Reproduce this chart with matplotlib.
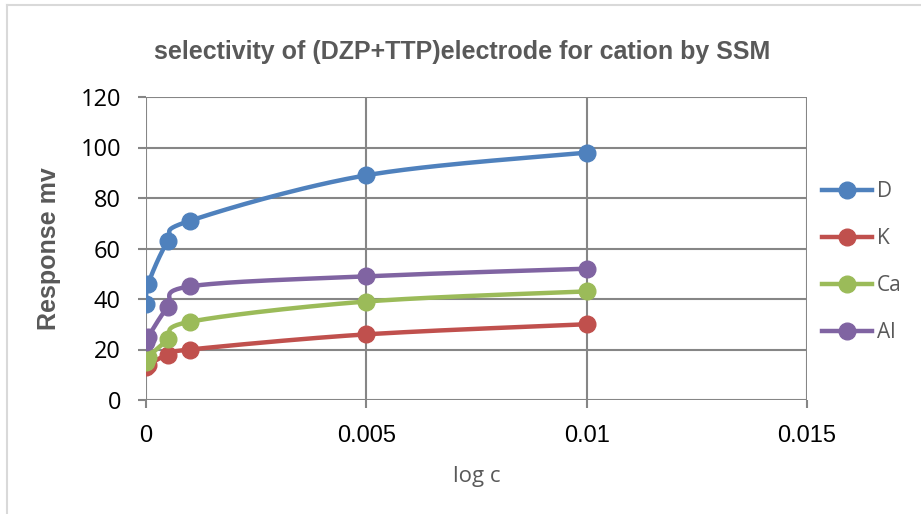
import numpy as np
import matplotlib.pyplot as plt
from matplotlib.lines import Line2D

# données
conc = [0.00001, 0.00005, 0.0005, 0.001, 0.005, 0.01]
series_names = ['D', 'K', 'Ca', 'Al']
resp_D = [38, 46, 63, 71, 89, 98]
resp_K = [13, 14, 18, 20, 26, 30]
resp_Ca = [15, 17, 24, 31, 39, 43]
resp_Al = [23, 25, 37, 45, 49, 52]
colors = ['#4F81BD', '#C0504D', '#9BBB59', '#8064A2']

x_ticks = [0, 0.005, 0.01, 0.015]
x_tick_labels = ['0', '0.005', '0.01', '0.015']
y_ticks = [0, 20, 40, 60, 80, 100, 120]


def smooth(x, y, n=30):
    # courbe lissée façon Excel (Bézier, tension 1/6)
    x = np.asarray(x, float)
    y = np.asarray(y, float)
    px = np.concatenate([[x[0]], x, [x[-1]]])
    py = np.concatenate([[y[0]], y, [y[-1]]])
    xs, ys = [], []
    t = np.linspace(0, 1, n)
    for i in range(1, len(px) - 2):
        p0, p1, p2, p3 = (np.array([px[j], py[j]]) for j in (i - 1, i, i + 1, i + 2))
        c1 = p1 + (p2 - p0) / 6
        c2 = p2 - (p3 - p1) / 6
        b = ((1 - t) ** 3)[:, None] * p1 + (3 * (1 - t) ** 2 * t)[:, None] * c1 \
            + (3 * (1 - t) * t ** 2)[:, None] * c2 + (t ** 3)[:, None] * p2
        xs.extend(b[:, 0])
        ys.extend(b[:, 1])
    return xs, ys


fig = plt.figure(figsize=(9.21, 5.14), dpi=100)
ax = fig.add_axes([146 / 921, 114 / 514, 661 / 921, 303 / 514])

# cadre extérieur (gauche et haut seulement visibles)
fig.add_artist(Line2D([7 / 921, 7 / 921], [0, 1 - 5 / 514], color='#d9d9d9', lw=1.5))
fig.add_artist(Line2D([7 / 921, 1], [1 - 5 / 514, 1 - 5 / 514], color='#d9d9d9', lw=1.5))

for vals, col, name in zip([resp_D, resp_K, resp_Ca, resp_Al], colors, series_names):
    sx, sy = smooth(conc, vals)
    ax.plot(sx, sy, color=col, lw=3.2, solid_capstyle='round', zorder=3)
    ax.plot(conc, vals, ls='none', marker='o', ms=12, color=col, zorder=4)

ax.set_xlim(0, 0.015)
ax.set_ylim(0, 120)
ax.set_xticks(x_ticks)
ax.set_xticklabels(x_tick_labels, fontsize=17, family='Liberation Sans')
ax.set_yticks(y_ticks)
ax.set_yticklabels([str(v) for v in y_ticks], fontsize=17, family='Open Sans')
ax.grid(True, color='#868686', lw=1.5)
ax.set_axisbelow(True)
for s in ax.spines.values():
    s.set_visible(False)
ax.tick_params(length=6, width=1.5, color='#868686')
ax.tick_params(axis='x', pad=12)
ax.tick_params(axis='y', pad=12)

fig.text(462 / 921, 1 - 52 / 514, 'selectivity of (DZP+TTP)electrode for cation by SSM',
         fontsize=18, fontweight='bold', color='#595959', family='Liberation Sans',
         ha='center', va='center')
ax.set_ylabel('Response mv', fontsize=18, fontweight='bold', color='#595959',
              family='Liberation Sans', labelpad=14)
ax.set_xlabel('log c', fontsize=16, color='#595959', family='Open Sans', labelpad=14)

handles = [Line2D([], [], color=c, lw=3.2, marker='o', ms=12) for c in colors]
leg = fig.legend(handles, series_names, loc='center left', bbox_to_anchor=(822 / 921, 1 - 262 / 514),
                 frameon=False, prop={'family': 'Open Sans', 'size': 15},
                 labelspacing=1.25, handlelength=2.4, handletextpad=0.25,
                 borderpad=0, borderaxespad=0)
for t in leg.get_texts():
    t.set_color('#595959')

plt.savefig('out.png', dpi=100)
